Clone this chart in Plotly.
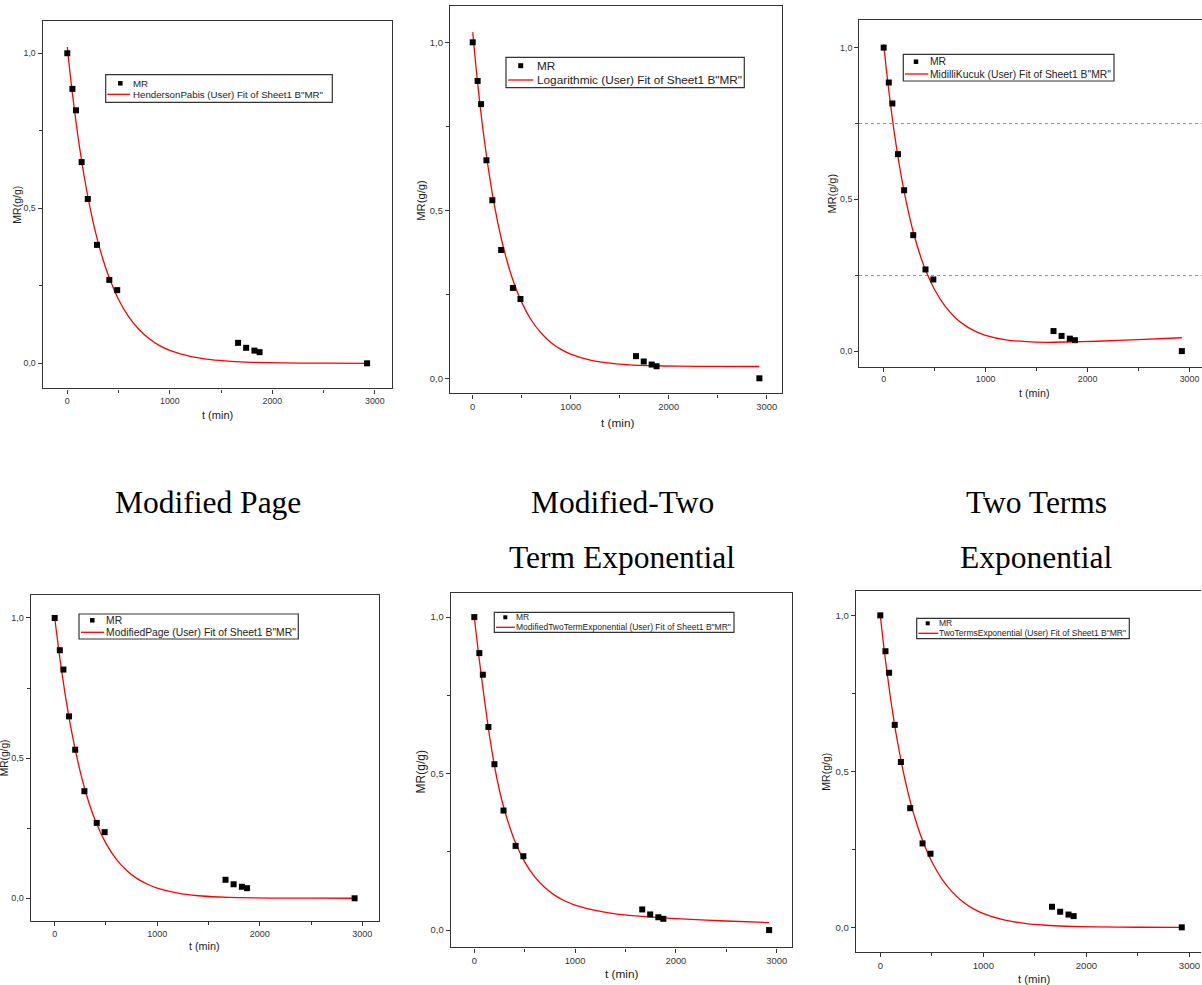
import plotly.graph_objects as go

# ---------------- data ----------------
t_min = [0, 50, 85, 140, 200, 290, 410, 487, 1666, 1745, 1826, 1876, 2925]
mr_obs = [1.0, 0.885, 0.816, 0.649, 0.530, 0.382, 0.269, 0.236, 0.066, 0.050, 0.041, 0.036, 0.0]

fit_t = [0, 25, 50, 100, 150, 200, 250, 300, 350, 400, 500, 600, 700, 800, 900, 1000,
         1200, 1400, 1600, 1800, 2100, 2500, 2925]
fit_henderson = [1.020, 0.942, 0.869, 0.741, 0.631, 0.538, 0.458, 0.391, 0.333, 0.284, 0.206, 0.150,
                 0.109, 0.079, 0.057, 0.042, 0.022, 0.0116, 0.0061, 0.0032, 0.0012, 0.0003, 0.0001]
fit_logarithmic = [1.030, 0.951, 0.879, 0.750, 0.642, 0.549, 0.471, 0.405, 0.349, 0.301, 0.226, 0.172,
                   0.134, 0.106, 0.086, 0.072, 0.054, 0.045, 0.040, 0.0376, 0.0360, 0.0353, 0.0351]
fit_midilli = [1.011, 0.931, 0.858, 0.728, 0.619, 0.526, 0.447, 0.380, 0.324, 0.276, 0.202, 0.149,
               0.111, 0.084, 0.065, 0.052, 0.037, 0.031, 0.029, 0.030, 0.0325, 0.0378, 0.044]
fit_modpage = [1.000, 0.928, 0.858, 0.732, 0.624, 0.530, 0.450, 0.382, 0.323, 0.274, 0.196, 0.140,
               0.100, 0.071, 0.051, 0.036, 0.018, 0.0091, 0.0046, 0.0023, 0.0008, 0.0002, 0.0001]
fit_modtwoterm = [1.000, 0.930, 0.863, 0.738, 0.622, 0.525, 0.446, 0.383, 0.331, 0.286, 0.218, 0.170,
                  0.136, 0.111, 0.093, 0.080, 0.063, 0.052, 0.0455, 0.0405, 0.0348, 0.029, 0.024]
fit_twoterms = [1.000, 0.925, 0.856, 0.732, 0.626, 0.536, 0.458, 0.392, 0.336, 0.287, 0.210, 0.154,
                0.113, 0.082, 0.060, 0.044, 0.0237, 0.0127, 0.0068, 0.0036, 0.0014, 0.0004, 0.0001]

fit_series = [fit_henderson, fit_logarithmic, fit_midilli, fit_modpage, fit_modtwoterm, fit_twoterms]
fit_labels = [
    'HendersonPabis (User) Fit of Sheet1 B"MR"',
    'Logarithmic (User) Fit of Sheet1 B"MR"',
    'MidilliKucuk (User) Fit of Sheet1 B"MR"',
    'ModifiedPage (User) Fit of Sheet1 B"MR"',
    'ModifiedTwoTermExponential (User) Fit of Sheet1 B"MR"',
    'TwoTermsExponential (User) Fit of Sheet1 B"MR"',
]
point_label = "MR"
x_tick_vals = [0, 1000, 2000, 3000]
x_tick_text = ["0", "1000", "2000", "3000"]
x_minor_vals = [500, 1500, 2500]
y_tick_vals = [0.0, 0.5, 1.0]
y_tick_text = ["0,0", "0,5", "1,0"]
y_minor_vals = [0.25, 0.75]
x_title = "t (min)"
y_title = "MR(g/g)"
panel_titles = [("Modified Page",), ("Modified-Two", "Term Exponential"), ("Two Terms", "Exponential")]

# ---------------- layout geometry (pixels) ----------------
W, H = 1202, 985
panels = [
    dict(l=42.7, r=392.0, t=21.0, b=388.3, xr=[-240, 3168], yr=[-0.0806, 1.104],
         tick=8.8, xt=11.0, yt=10.5, xt_pos=(217, 415), yt_pos=(16.7, 205)),
    dict(l=450.0, r=782.3, t=5.7, b=393.3, xr=[-232, 3159], yr=[-0.0446, 1.109],
         tick=9.4, xt=11.8, yt=11.2, xt_pos=(617, 423), yt_pos=(420.7, 200)),
    dict(l=859.3, r=1202.0, t=20.0, b=366.7, xr=[-239.4, 3122.7], yr=[-0.0514, 1.091],
         tick=8.8, xt=10.8, yt=11.0, xt_pos=(1034.7, 393.3), yt_pos=(832.3, 193.3)),
    dict(l=30.7, r=379.0, t=595.0, b=920.7, xr=[-234, 3163], yr=[-0.080, 1.082],
         tick=9.0, xt=10.8, yt=10.2, xt_pos=(204.7, 945.7), yt_pos=(4, 758.3)),
    dict(l=450.7, r=792.3, t=592.7, b=947.3, xr=[-234, 3155], yr=[-0.055, 1.078],
         tick=9.4, xt=11.8, yt=12.0, xt_pos=(621.7, 974.3), yt_pos=(420.7, 771.7)),
    dict(l=856.0, r=1201.4, t=590.7, b=952.0, xr=[-235.8, 3115.4], yr=[-0.079, 1.079],
         tick=9.6, xt=11.4, yt=10.5, xt_pos=(1034.4, 979), yt_pos=(826, 771.7)),
]
legends = [
    dict(box=(105.7, 74.7, 332.3, 102.3), mk=(120.3, 83.3), ln=(107.3, 130.0, 94.3), tx=134.3, rows=(83.0, 94.7), fs=9.7, ms=4.5),
    dict(box=(506.0, 57.3, 744.3, 87.7), mk=(520.7, 65.7), ln=(508.3, 533.3, 80.0), tx=537.7, rows=(65.7, 80.0), fs=11.8, ms=5.0),
    dict(box=(903.3, 54.3, 1114.0, 81.0), mk=(916.0, 61.7), ln=(905.0, 928.3, 74.0), tx=930.7, rows=(61.7, 74.0), fs=10.35, ms=4.5),
    dict(box=(79.0, 614.0, 298.3, 639.0), mk=(92.3, 620.3), ln=(81.0, 104.0, 632.3), tx=106.7, rows=(620.3, 632.3), fs=10.37, ms=4.5),
    dict(box=(494.3, 612.3, 734.0, 632.3), mk=(505.3, 617.3), ln=(496.0, 515.0, 627.3), tx=516.7, rows=(617.3, 627.3), fs=8.5, ms=4.0),
    dict(box=(916.7, 618.3, 1129.3, 638.7), mk=(927.7, 623.3), ln=(918.3, 938.3, 633.3), tx=940.0, rows=(623.3, 633.3), fs=8.5, ms=4.0),
]

SANS = "Arial, Liberation Sans, sans-serif"
SERIF = "Times New Roman, Liberation Serif, serif"
AX = "#333333"


def px_x(v):
    return v / W


def px_y(v):
    return 1 - v / H


fig = go.Figure()
layout = dict(width=W, height=H, margin=dict(l=0, r=0, t=0, b=0), autosize=False,
              paper_bgcolor="white", plot_bgcolor="white", showlegend=False)
annotations = []
shapes = []

for i, p in enumerate(panels):
    n = i + 1
    sx = "" if n == 1 else str(n)
    fig.add_trace(go.Scatter(
        x=fit_t, y=fit_series[i], mode="lines", name=fit_labels[i],
        line=dict(color="#ff0000", width=1.3, shape="spline", smoothing=0.5),
        xaxis="x" + sx, yaxis="y" + sx, showlegend=False,
    ))
    fig.add_trace(go.Scatter(
        x=t_min, y=mr_obs, mode="markers", name=point_label,
        marker=dict(symbol="square", size=6, color="black", line=dict(width=0)),
        xaxis="x" + sx, yaxis="y" + sx, cliponaxis=False, showlegend=False,
    ))
    open_right = p["r"] >= W - 1
    layout["xaxis" + sx] = dict(
        domain=[px_x(p["l"]), min(1.0, px_x(p["r"]))], range=p["xr"], anchor="y" + sx,
        showline=True, linecolor=AX, linewidth=1.4, mirror=True,
        ticks="outside", ticklen=4, tickwidth=1, tickcolor=AX,
        tickvals=x_tick_vals, ticktext=x_tick_text, ticklabeloverflow="allow",
        tickfont=dict(family=SANS, size=p["tick"], color=AX),
        minor=dict(tickvals=x_minor_vals, ticks="outside", ticklen=3, tickcolor=AX, showgrid=False),
        showgrid=False, zeroline=False, automargin=False, fixedrange=True,
    )
    ymin = dict(tickvals=y_minor_vals, ticks="outside", ticklen=3, tickcolor=AX, showgrid=False)
    if n == 3:
        ymin.update(showgrid=True, gridcolor="#3fcf3f", griddash="dot", gridwidth=1)
    layout["yaxis" + sx] = dict(
        domain=[px_y(p["b"]), px_y(p["t"])], range=p["yr"], anchor="x" + sx,
        showline=True, linecolor=AX, linewidth=1.4, mirror=(not open_right),
        ticks="outside", ticklen=4, tickwidth=1, tickcolor=AX,
        tickvals=y_tick_vals, ticktext=y_tick_text, ticklabeloverflow="allow",
        tickfont=dict(family=SANS, size=p["tick"], color=AX),
        minor=ymin,
        showgrid=False, zeroline=False, automargin=False, fixedrange=True,
    )
    annotations.append(dict(
        text=x_title, x=px_x(p["xt_pos"][0]), y=px_y(p["xt_pos"][1]), xref="paper", yref="paper",
        xanchor="center", yanchor="middle", showarrow=False,
        font=dict(family=SANS, size=p["xt"], color="#222222"),
    ))
    annotations.append(dict(
        text=y_title, x=px_x(p["yt_pos"][0]), y=px_y(p["yt_pos"][1]), xref="paper", yref="paper",
        xanchor="center", yanchor="middle", showarrow=False, textangle=-90,
        font=dict(family=SANS, size=p["yt"], color="#222222"),
    ))

    # legend (box, symbols and entry texts)
    lg = legends[i]
    bl, bt, br, bb = lg["box"]
    shapes.append(dict(type="rect", xref="paper", yref="paper",
                       x0=px_x(bl), x1=px_x(br), y0=px_y(bb), y1=px_y(bt),
                       line=dict(color=AX, width=1.2), fillcolor="white", layer="above"))
    mx, my = lg["mk"]
    h = lg["ms"] / 2
    shapes.append(dict(type="rect", xref="paper", yref="paper",
                       x0=px_x(mx - h), x1=px_x(mx + h), y0=px_y(my + h), y1=px_y(my - h),
                       line=dict(width=0), fillcolor="black", layer="above"))
    lx0, lx1, ly = lg["ln"]
    shapes.append(dict(type="line", xref="paper", yref="paper",
                       x0=px_x(lx0), x1=px_x(lx1), y0=px_y(ly), y1=px_y(ly),
                       line=dict(color="#ff0000", width=1.3), layer="above"))
    for txt, ry in zip([point_label, fit_labels[i]], lg["rows"]):
        annotations.append(dict(
            text=txt, x=px_x(lg["tx"] - 1), y=px_y(ry), xref="paper", yref="paper",
            xanchor="left", yanchor="middle", showarrow=False, borderpad=0, borderwidth=0,
            font=dict(family=SANS, size=lg["fs"], color="#222222"),
        ))

# panel captions between the two rows
caption_centers = [208, 622, 1036]
caption_rows = [502, 557]
for cx, lines in zip(caption_centers, panel_titles):
    for k, line in enumerate(lines):
        annotations.append(dict(
            text=line, x=px_x(cx), y=px_y(caption_rows[k]), xref="paper", yref="paper",
            xanchor="center", yanchor="middle", showarrow=False,
            font=dict(family=SERIF, size=31.5, color="black"),
        ))

layout["annotations"] = annotations
layout["shapes"] = shapes
fig.update_layout(**layout)
fig.write_html("out.html", config={"displayModeBar": False},
               post_script="document.body.style.margin='0px';document.body.style.overflow='hidden';")
